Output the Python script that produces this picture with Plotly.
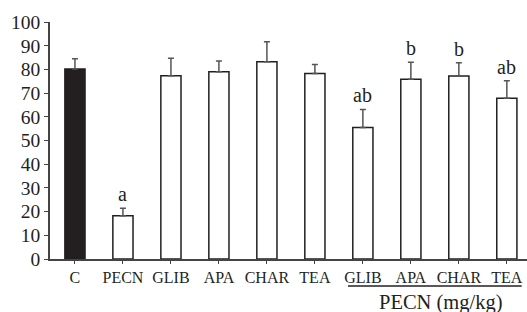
import plotly.graph_objects as go

categories = ["C", "PECN", "GLIB", "APA", "CHAR", "TEA", "GLIB", "APA", "CHAR", "TEA"]
values = [80.2, 18.2, 77.3, 79.0, 83.2, 78.3, 55.5, 75.8, 77.2, 67.8]
errors = [4.3, 3.2, 7.4, 4.5, 8.5, 3.8, 7.6, 7.2, 5.6, 7.4]
letters = ["", "a", "", "", "", "", "ab", "b", "b", "ab"]
y_ticks = [0, 10, 20, 30, 40, 50, 60, 70, 80, 90, 100]
group_label = "PECN (mg/kg)"

idx = list(range(len(categories)))
fills = ["#231f20"] + ["white"] * (len(categories) - 1)

FONT = "Liberation Serif"

fig = go.Figure()
fig.add_trace(go.Bar(
    x=idx, y=values, width=0.42,
    marker=dict(color=fills, line=dict(color="#231f20", width=1.5)),
    error_y=dict(type="data", symmetric=False, array=errors,
                 arrayminus=[0] * len(errors), color="#555555",
                 thickness=1.5, width=3),
    hoverinfo="skip",
))

for i, (v, e, t) in enumerate(zip(values, errors, letters)):
    if t:
        fig.add_annotation(x=i, y=v + e, text=t, showarrow=False,
                           xref="x", yref="y", yanchor="bottom", yshift=1,
                           font=dict(family=FONT, size=20, color="#231f20"))

fig.add_shape(type="line", xref="x", yref="paper", x0=5.69, x1=9.31,
              y0=-0.114, y1=-0.114, line=dict(color="#231f20", width=1.3))
fig.add_annotation(x=7.62, y=-0.182, xref="x", yref="paper", text=group_label,
                   showarrow=False, yanchor="middle",
                   font=dict(family=FONT, size=20.5, color="#231f20"))

fig.update_layout(
    width=527, height=312,
    margin=dict(l=50, r=0, t=22, b=53),
    plot_bgcolor="white", paper_bgcolor="white",
    showlegend=False,
    xaxis=dict(range=[-0.52, 9.42], tickmode="array", tickvals=idx,
               ticktext=categories, showline=True, linecolor="#444444",
               linewidth=1.5, ticks="outside", ticklen=3, tickcolor="#444444",
               tickfont=dict(family=FONT, size=16, color="#231f20"),
               showgrid=False, zeroline=False),
    yaxis=dict(range=[0, 100], tickvals=y_ticks, showline=True,
               linecolor="#444444", linewidth=1.5, ticks="outside", ticklen=4,
               tickcolor="#444444",
               tickfont=dict(family=FONT, size=19.5, color="#231f20"),
               showgrid=False, zeroline=False),
)

fig.write_html("out.html", config={"displayModeBar": False},
               post_script="document.body.style.margin='0';document.body.style.overflow='hidden';")
